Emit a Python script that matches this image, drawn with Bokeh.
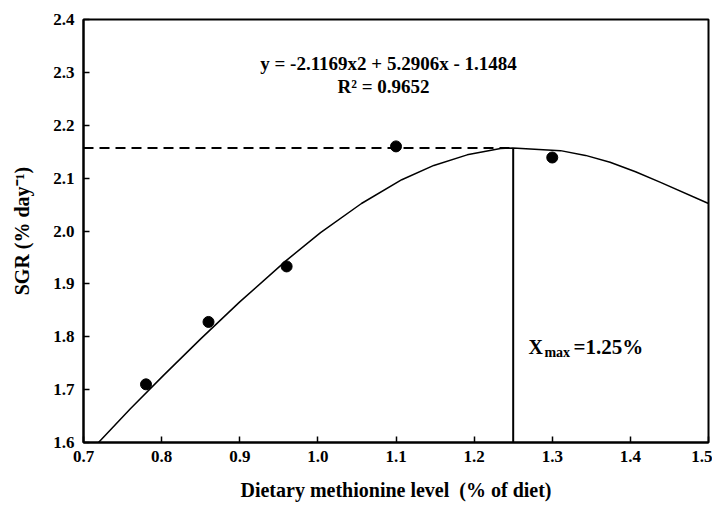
from bokeh.plotting import figure
from bokeh.models import Range1d, Label, FixedTicker
from bokeh.embed import file_html
from bokeh.resources import INLINE

# ---- data ----
met_level = [0.78, 0.86, 0.96, 1.10, 1.30]
sgr = [1.710, 1.828, 1.933, 2.160, 2.139]

curve_x = [0.7192, 0.76, 0.8024, 0.85, 0.90, 0.9594, 1.0034, 1.0558, 1.1074,
           1.1484, 1.1911, 1.2338, 1.2496, 1.3106, 1.3426, 1.374, 1.4066,
           1.4386, 1.5]
curve_y = [1.600, 1.664, 1.727, 1.796, 1.866, 1.944, 1.997, 2.052, 2.097,
           2.124, 2.144, 2.156, 2.1572, 2.152, 2.143, 2.130, 2.112,
           2.092, 2.052]

x_max = 1.25
y_max = 2.157

x_ticks = [0.7, 0.8, 0.9, 1.0, 1.1, 1.2, 1.3, 1.4, 1.5]
y_ticks = [1.6, 1.7, 1.8, 1.9, 2.0, 2.1, 2.2, 2.3, 2.4]

equation = "y = -2.1169x2 + 5.2906x - 1.1484"
r2_text = "R\u00b2 = 0.9652"

FONT = "'Liberation Serif', 'Times New Roman', serif"

p = figure(width=712, height=503, output_backend="svg", toolbar_location=None,
           x_range=Range1d(0.7, 1.5), y_range=Range1d(1.6, 2.4),
           min_border_left=83, min_border_right=4, min_border_top=19,
           min_border_bottom=61)
p.background_fill_color = "white"
p.border_fill_color = "white"
p.grid.visible = False
p.outline_line_color = "black"
p.outline_line_width = 2

for ax, ticks in ((p.xaxis, x_ticks), (p.yaxis, y_ticks)):
    ax.ticker = FixedTicker(ticks=ticks)
    ax.axis_line_width = 2
    ax.axis_line_color = "black"
    ax.major_tick_in = 6
    ax.major_tick_out = 0
    ax.major_tick_line_width = 1.5
    ax.minor_tick_line_color = None
    ax.major_label_text_font = FONT
    ax.major_label_text_font_style = "bold"
    ax.major_label_text_font_size = "17px"
    ax.major_label_text_color = "black"
    ax.axis_label_text_font = FONT
    ax.axis_label_text_font_style = "bold"
    ax.axis_label_text_font_size = "20px"
    ax.axis_label_text_color = "black"

p.xaxis.major_label_overrides = {t: f"{t:.1f}" for t in x_ticks}
p.yaxis.major_label_overrides = {t: f"{t:.1f}" for t in y_ticks}
p.xaxis.major_label_standoff = 8
p.yaxis.major_label_standoff = 9
p.xaxis.axis_label = "Dietary methionine level\u00a0 (% of diet)"
p.yaxis.axis_label = "SGR (% day\u207b\u00b9)"
p.xaxis.axis_label_standoff = 14
p.yaxis.axis_label_standoff = 17

# fitted curve
p.line(curve_x, curve_y, line_color="black", line_width=1.5)
# dashed horizontal to maximum
p.line([0.7, x_max], [y_max, y_max], line_color="black", line_width=2,
       line_dash="10 6")
# vertical line at x max
p.line([x_max, x_max], [1.6, y_max], line_color="black", line_width=2)
# data points
p.scatter(met_level, sgr, size=11, color="black")

# annotations
p.add_layout(Label(x=1.0904, y=2.316, text=equation, text_font=FONT,
                   text_font_style="bold", text_font_size="19px",
                   text_align="center", text_baseline="middle",
                   text_color="black"))
p.add_layout(Label(x=1.084, y=2.273, text=r2_text, text_font=FONT,
                   text_font_style="bold", text_font_size="19px",
                   text_align="center", text_baseline="middle",
                   text_color="black"))
p.add_layout(Label(x=1.2696, y=1.7797, text="X", text_font=FONT,
                   text_font_style="bold", text_font_size="20px",
                   text_align="left", text_baseline="alphabetic",
                   text_color="black"))
p.add_layout(Label(x=1.290, y=1.770, text="max", text_font=FONT,
                   text_font_style="bold", text_font_size="14px",
                   text_align="left", text_baseline="alphabetic",
                   text_color="black"))
p.add_layout(Label(x=1.3272, y=1.7797, text="=1.25%", text_font=FONT,
                   text_font_style="bold", text_font_size="21px",
                   text_align="left", text_baseline="alphabetic",
                   text_color="black"))

open("out.html", "w").write(file_html(p, INLINE))
